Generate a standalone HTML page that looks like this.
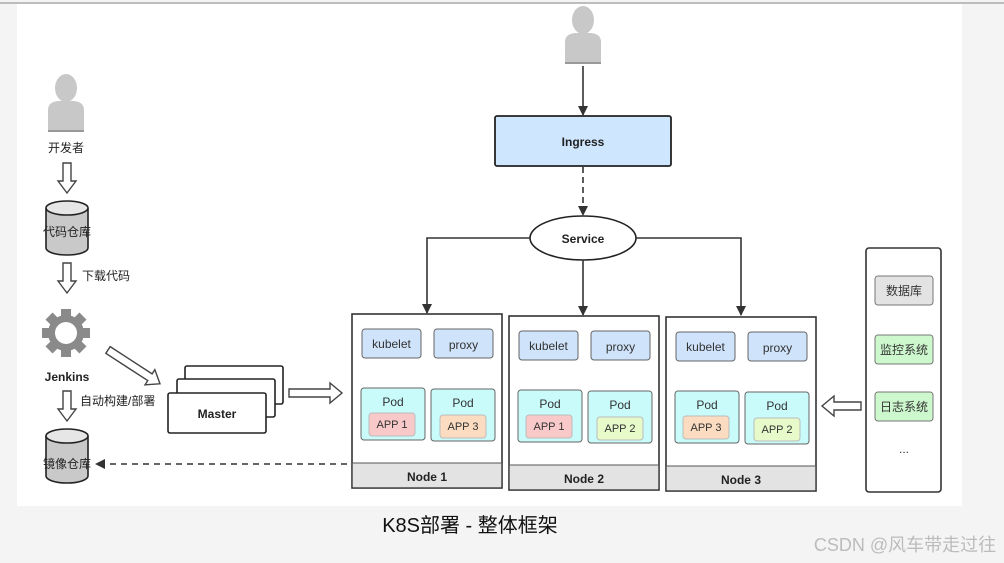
<!DOCTYPE html>
<html><head><meta charset="utf-8"><style>
html,body{margin:0;padding:0;background:#f4f4f4;}
svg{display:block;font-family:"Liberation Sans","Noto Sans CJK SC",sans-serif;}
</style></head><body>
<svg width="1004" height="563" viewBox="0 0 1004 563" xmlns="http://www.w3.org/2000/svg">
<defs>
<marker id="ah" markerWidth="10" markerHeight="10" refX="9" refY="5" orient="auto" markerUnits="userSpaceOnUse"><path d="M0,0 L10,5 L0,10 z" fill="#333"/></marker>
<g id="person"><ellipse cx="0" cy="-14" rx="11" ry="14" fill="#c8c8c8"/><path d="M-18,30 L-18,8 Q-18,0 -8,-1 L8,-1 Q18,0 18,8 L18,30 z" fill="#c8c8c8"/><rect x="-18" y="28" width="36" height="2" fill="#999"/></g>
<g id="cyl"><path d="M0,8 L0,48 A21,7 0 0 0 42,48 L42,8" fill="#c9c9c9" stroke="#222" stroke-width="1.6"/><ellipse cx="21" cy="8" rx="21" ry="7" fill="#e6e6e6" stroke="#222" stroke-width="1.6"/></g>
<g id="darr"><polygon points="-4,0 4,0 4,18 9,18 0,30 -9,18 -4,18" fill="#fff" stroke="#444" stroke-width="1.4"/></g>
</defs>
<rect x="0" y="0" width="1004" height="563" fill="#f4f4f4"/>
<rect x="17" y="4" width="945" height="502" fill="#fff"/>
<rect x="0" y="2" width="1004" height="2" fill="#bdbdbd"/>

<!-- left chain -->
<use href="#person" x="66" y="102"/>
<text x="66" y="152" font-size="12" text-anchor="middle" fill="#222">开发者</text>
<use href="#darr" x="67" y="163"/>
<use href="#cyl" x="46" y="200"/>
<text x="67" y="236" font-size="12" text-anchor="middle" fill="#222">代码仓库</text>
<use href="#darr" x="67" y="263"/>
<text x="82" y="280" font-size="12" fill="#222">下载代码</text>
<g transform="translate(66,333)" fill="#8a8a8a">
<circle r="18"/>
<g id="tooth"><rect x="-5" y="-24" width="10" height="10"/></g>
<use href="#tooth" transform="rotate(45)"/><use href="#tooth" transform="rotate(90)"/><use href="#tooth" transform="rotate(135)"/><use href="#tooth" transform="rotate(180)"/><use href="#tooth" transform="rotate(225)"/><use href="#tooth" transform="rotate(270)"/><use href="#tooth" transform="rotate(315)"/>
<circle r="11" fill="#fff"/>
</g>
<text x="67" y="381" font-size="12" font-weight="bold" text-anchor="middle" fill="#222">Jenkins</text>
<use href="#darr" x="67" y="391"/>
<text x="80" y="405" font-size="12" fill="#222">自动构建/部署</text>
<use href="#cyl" x="46" y="428"/>
<text x="67" y="468" font-size="12" text-anchor="middle" fill="#222">镜像仓库</text>
<line x1="347" y1="464" x2="96" y2="464" stroke="#333" stroke-width="1.6" stroke-dasharray="6,5" marker-end="url(#ah)"/>

<!-- diagonal arrow -->
<g transform="translate(108,350) rotate(33)"><polygon points="0,-4 50,-4 50,-9 62,0 50,9 50,4 0,4" fill="#fff" stroke="#444" stroke-width="1.4"/></g>
<!-- master stack -->
<rect x="185" y="366" width="98" height="38" rx="2" fill="#fff" stroke="#222" stroke-width="1.6"/>
<rect x="177" y="379" width="98" height="38" rx="2" fill="#fff" stroke="#222" stroke-width="1.6"/>
<rect x="168" y="393" width="98" height="40" rx="2" fill="#fff" stroke="#222" stroke-width="1.6"/>
<text x="217" y="418" font-size="12" font-weight="bold" text-anchor="middle" fill="#222">Master</text>
<polygon points="289,389 330,389 330,383 342,393 330,403 330,397 289,397" fill="#fff" stroke="#444" stroke-width="1.4"/>

<!-- top -->
<use href="#person" x="583" y="34"/>
<line x1="583" y1="66" x2="583" y2="115" stroke="#333" stroke-width="1.6" marker-end="url(#ah)"/>
<rect x="495" y="116" width="176" height="50" rx="2" fill="#cfe6ff" stroke="#222" stroke-width="1.8"/>
<text x="583" y="146" font-size="12" font-weight="bold" text-anchor="middle" fill="#222">Ingress</text>
<line x1="583" y1="167" x2="583" y2="215" stroke="#333" stroke-width="1.6" stroke-dasharray="6,4" marker-end="url(#ah)"/>
<ellipse cx="583" cy="238" rx="53" ry="22" fill="#fff" stroke="#222" stroke-width="1.6"/>
<text x="583" y="243" font-size="12" font-weight="bold" text-anchor="middle" fill="#222">Service</text>
<polyline points="530,238 427,238 427,313" fill="none" stroke="#333" stroke-width="1.6" marker-end="url(#ah)"/>
<line x1="583" y1="260" x2="583" y2="315" stroke="#333" stroke-width="1.6" marker-end="url(#ah)"/>
<polyline points="636,238 741,238 741,315" fill="none" stroke="#333" stroke-width="1.6" marker-end="url(#ah)"/>

<!-- nodes -->
<g transform="translate(352,314)">
<rect x="0" y="0" width="150" height="174" fill="#fff" stroke="#333" stroke-width="1.6"/>
<rect x="0.8" y="149" width="148.4" height="24.2" fill="#e3e3e3"/>
<line x1="0" y1="149" x2="150" y2="149" stroke="#555" stroke-width="1"/>
<rect x="10" y="15" width="59" height="29" rx="3" fill="#cfe3fb" stroke="#666"/>
<rect x="82" y="15" width="59" height="29" rx="3" fill="#cfe3fb" stroke="#666"/>
<text x="39.5" y="34" font-size="12" text-anchor="middle" fill="#333">kubelet</text>
<text x="111.5" y="35" font-size="12" text-anchor="middle" fill="#333">proxy</text>
<rect x="9" y="74" width="64" height="52" rx="3" fill="#c9fbfb" stroke="#666"/>
<rect x="79" y="75" width="64" height="52" rx="3" fill="#c9fbfb" stroke="#666"/>
<text x="41" y="92" font-size="12" text-anchor="middle" fill="#333">Pod</text>
<text x="111" y="93" font-size="12" text-anchor="middle" fill="#333">Pod</text>
<text x="75" y="167" font-size="12" font-weight="bold" text-anchor="middle" fill="#222">Node 1</text>
</g>
<rect x="369" y="413" width="46" height="23" rx="3" fill="#f9c9c9" stroke="#bbb"/><text x="392" y="428" font-size="11" text-anchor="middle" fill="#333">APP 1</text>
<rect x="440" y="415" width="46" height="23" rx="3" fill="#fbdcc1" stroke="#bbb"/><text x="463" y="430" font-size="11" text-anchor="middle" fill="#333">APP 3</text>

<g transform="translate(509,316)">
<rect x="0" y="0" width="150" height="174" fill="#fff" stroke="#333" stroke-width="1.6"/>
<rect x="0.8" y="149" width="148.4" height="24.2" fill="#e3e3e3"/>
<line x1="0" y1="149" x2="150" y2="149" stroke="#555" stroke-width="1"/>
<rect x="10" y="15" width="59" height="29" rx="3" fill="#cfe3fb" stroke="#666"/>
<rect x="82" y="15" width="59" height="29" rx="3" fill="#cfe3fb" stroke="#666"/>
<text x="39.5" y="34" font-size="12" text-anchor="middle" fill="#333">kubelet</text>
<text x="111.5" y="35" font-size="12" text-anchor="middle" fill="#333">proxy</text>
<rect x="9" y="74" width="64" height="52" rx="3" fill="#c9fbfb" stroke="#666"/>
<rect x="79" y="75" width="64" height="52" rx="3" fill="#c9fbfb" stroke="#666"/>
<text x="41" y="92" font-size="12" text-anchor="middle" fill="#333">Pod</text>
<text x="111" y="93" font-size="12" text-anchor="middle" fill="#333">Pod</text>
<rect x="17" y="99" width="46" height="23" rx="3" fill="#f9c9c9" stroke="#bbb"/><text x="40" y="114" font-size="11" text-anchor="middle" fill="#333">APP 1</text>
<rect x="88" y="101" width="46" height="23" rx="3" fill="#e6fbc9" stroke="#bbb"/><text x="111" y="116" font-size="11" text-anchor="middle" fill="#333">APP 2</text>
<text x="75" y="167" font-size="12" font-weight="bold" text-anchor="middle" fill="#222">Node 2</text>
</g>

<g transform="translate(666,317)">
<rect x="0" y="0" width="150" height="174" fill="#fff" stroke="#333" stroke-width="1.6"/>
<rect x="0.8" y="149" width="148.4" height="24.2" fill="#e3e3e3"/>
<line x1="0" y1="149" x2="150" y2="149" stroke="#555" stroke-width="1"/>
<rect x="10" y="15" width="59" height="29" rx="3" fill="#cfe3fb" stroke="#666"/>
<rect x="82" y="15" width="59" height="29" rx="3" fill="#cfe3fb" stroke="#666"/>
<text x="39.5" y="34" font-size="12" text-anchor="middle" fill="#333">kubelet</text>
<text x="111.5" y="35" font-size="12" text-anchor="middle" fill="#333">proxy</text>
<rect x="9" y="74" width="64" height="52" rx="3" fill="#c9fbfb" stroke="#666"/>
<rect x="79" y="75" width="64" height="52" rx="3" fill="#c9fbfb" stroke="#666"/>
<text x="41" y="92" font-size="12" text-anchor="middle" fill="#333">Pod</text>
<text x="111" y="93" font-size="12" text-anchor="middle" fill="#333">Pod</text>
<rect x="17" y="99" width="46" height="23" rx="3" fill="#fbdcc1" stroke="#bbb"/><text x="40" y="114" font-size="11" text-anchor="middle" fill="#333">APP 3</text>
<rect x="88" y="101" width="46" height="23" rx="3" fill="#e6fbc9" stroke="#bbb"/><text x="111" y="116" font-size="11" text-anchor="middle" fill="#333">APP 2</text>
<text x="75" y="167" font-size="12" font-weight="bold" text-anchor="middle" fill="#222">Node 3</text>
</g>

<!-- right panel -->
<rect x="866" y="248" width="75" height="244" rx="3" fill="#fff" stroke="#333" stroke-width="1.6"/>
<rect x="875" y="276" width="58" height="29" rx="3" fill="#e3e3e3" stroke="#777"/>
<text x="904" y="295" font-size="12" text-anchor="middle" fill="#333">数据库</text>
<rect x="875" y="335" width="58" height="29" rx="3" fill="#cdf7cd" stroke="#777"/>
<text x="904" y="354" font-size="12" text-anchor="middle" fill="#333">监控系统</text>
<rect x="875" y="392" width="58" height="29" rx="3" fill="#cdf7cd" stroke="#777"/>
<text x="904" y="411" font-size="12" text-anchor="middle" fill="#333">日志系统</text>
<text x="904" y="453" font-size="12" text-anchor="middle" fill="#333">...</text>
<polygon points="861,402 834,402 834,396 822,406 834,416 834,410 861,410" fill="#fff" stroke="#444" stroke-width="1.4"/>

<text x="470" y="532" font-size="20" text-anchor="middle" fill="#111">K8S部署 - 整体框架</text>
<text x="905" y="551" font-size="18" text-anchor="middle" fill="#bcbcbc">CSDN @风车带走过往</text>
</svg>
</body></html>
